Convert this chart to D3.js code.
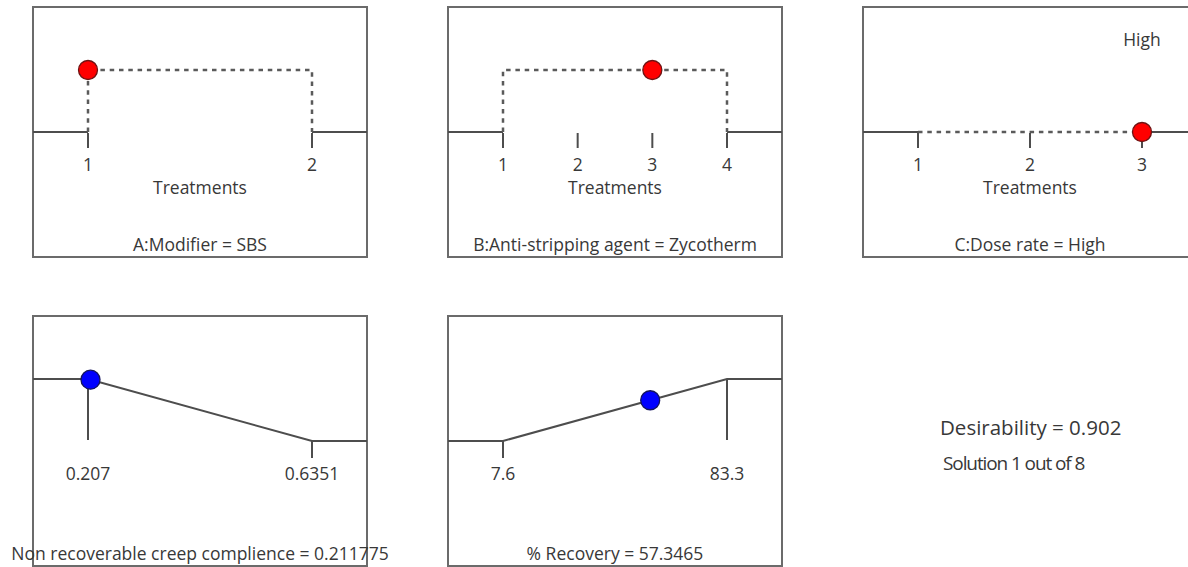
<!DOCTYPE html>
<html>
<head>
<meta charset="utf-8">
<script src="https://cdn.jsdelivr.net/npm/d3@7"></script>
<style>
  html, body { margin: 0; padding: 0; background: #fff; }
  svg text { font-family: "Open Sans", "Noto Sans", sans-serif; fill: #383838; }
</style>
</head>
<body>
<svg id="chart" width="1188" height="567"></svg>
<script>
// ---- Factor settings (optimisation solution) ----
const factorTitles   = ["A:Modifier = SBS", "B:Anti-stripping agent = Zycotherm", "C:Dose rate = High"];
const factorAxisName = ["Treatments", "Treatments", "Treatments"];
const factorLevels   = [[1, 2], [1, 2, 3, 4], [1, 2, 3]];
const factorSelected = [1, 3, 3];
const factorRaised   = [1, 1, 0];        // desirability level of the dotted bracket
const factorTopNote  = ["", "", "High"];

// ---- Responses ----
const responseNames  = ["Non recoverable creep complience", "% Recovery"];
const responseLow    = [0.207, 7.6];
const responseHigh   = [0.6351, 83.3];
const responseLowLbl = ["0.207", "7.6"];
const responseHighLbl= ["0.6351", "83.3"];
const responseGoal   = ["minimize", "maximize"];
const responseValue  = [0.211775, 57.3465];
const responseValLbl = ["0.211775", "57.3465"];

const desirability = 0.902;
const solutionIndex = 1, solutionCount = 8;

// ---- Layout ----
const svg = d3.select("#chart");
const W = 334, H = 250;
const colX = [33, 448, 863];
const rowY = [7, 316];
const inset = 55;
const fs = 17.5;
const lineCol = "#4d4d4d", boxCol = "#6b6b6b";

function panel(x0, y0) {
  const g = svg.append("g").attr("transform", `translate(${x0},${y0})`);
  g.append("rect").attr("x", 0).attr("y", 0).attr("width", W).attr("height", H)
    .attr("fill", "none").attr("stroke", boxCol).attr("stroke-width", 2);
  const yD = d3.scaleLinear().domain([0, 1]).range([125, 63]);
  return { g, yD };
}

// ---- Factor panels ----
factorTitles.forEach((title, i) => {
  const { g, yD } = panel(colX[i], rowY[0]);
  const lv = factorLevels[i];
  const x = d3.scaleLinear().domain([lv[0], lv[lv.length - 1]]).range([inset, W - inset]);
  const y0 = yD(0), yR = yD(factorRaised[i]);
  const xa = x(lv[0]), xb = x(lv[lv.length - 1]);

  // solid lead-in / lead-out at baseline
  g.append("line").attr("x1", 0).attr("x2", xa).attr("y1", y0).attr("y2", y0)
    .attr("stroke", lineCol).attr("stroke-width", 2);
  g.append("line").attr("x1", xb).attr("x2", W).attr("y1", y0).attr("y2", y0)
    .attr("stroke", lineCol).attr("stroke-width", 2);

  // dotted bracket spanning the levels
  g.append("path")
    .attr("d", d3.line()([[xa, y0], [xa, yR], [xb, yR], [xb, y0]]))
    .attr("fill", "none").attr("stroke", "#5a5a5a").attr("stroke-width", 2.5)
    .attr("stroke-dasharray", "4.5,4.8");

  // level ticks
  g.selectAll("line.tick").data(lv).join("line").attr("class", "tick")
    .attr("x1", d => x(d)).attr("x2", d => x(d))
    .attr("y1", y0 + 1).attr("y2", y0 + 16)
    .attr("stroke", lineCol).attr("stroke-width", 2);
  g.selectAll("text.lvl").data(lv).join("text").attr("class", "lvl")
    .attr("x", d => x(d)).attr("y", 164).attr("text-anchor", "middle")
    .attr("font-size", fs).text(d => d);

  g.append("text").attr("x", W / 2).attr("y", 187).attr("text-anchor", "middle")
    .attr("font-size", fs).text(factorAxisName[i]);
  g.append("text").attr("x", W / 2).attr("y", 244).attr("text-anchor", "middle")
    .attr("font-size", fs).text(title);
  if (factorTopNote[i]) {
    g.append("text").attr("x", x(factorSelected[i])).attr("y", 39).attr("text-anchor", "middle")
      .attr("font-size", fs).text(factorTopNote[i]);
  }

  g.append("circle").attr("cx", x(factorSelected[i])).attr("cy", yR).attr("r", 9.5)
    .attr("fill", "#ff0000").attr("stroke", "#6e1414").attr("stroke-width", 1.3);
});

// ---- Response panels ----
responseNames.forEach((name, i) => {
  const { g, yD } = panel(colX[i], rowY[1]);
  const lo = responseLow[i], hi = responseHigh[i];
  const x = d3.scaleLinear().domain([lo, hi]).range([inset, W - inset]);
  const minimize = responseGoal[i] === "minimize";
  const dAt = v => minimize ? (hi - v) / (hi - lo) : (v - lo) / (hi - lo);
  const dLo = dAt(lo), dHi = dAt(hi);

  const pts = [[0, yD(dLo)], [x(lo), yD(dLo)], [x(hi), yD(dHi)], [W, yD(dHi)]];
  g.append("path").attr("d", d3.line()(pts))
    .attr("fill", "none").attr("stroke", lineCol).attr("stroke-width", 2);

  // end ticks: long drop from the top level, short tick below the floor
  [[lo, dLo], [hi, dHi]].forEach(([v, d]) => {
    const top = yD(d), bot = d > 0.5 ? yD(0) - 1 : yD(0) + 17;
    g.append("line").attr("x1", x(v)).attr("x2", x(v)).attr("y1", top).attr("y2", bot)
      .attr("stroke", lineCol).attr("stroke-width", 2);
  });

  g.append("text").attr("x", x(lo)).attr("y", 164).attr("text-anchor", "middle")
    .attr("font-size", fs).text(responseLowLbl[i]);
  g.append("text").attr("x", x(hi)).attr("y", 164).attr("text-anchor", "middle")
    .attr("font-size", fs).text(responseHighLbl[i]);
  g.append("text").attr("x", W / 2).attr("y", 244).attr("text-anchor", "middle")
    .attr("font-size", fs).text(`${name} = ${responseValLbl[i]}`);

  const v = responseValue[i];
  g.append("circle").attr("cx", x(v)).attr("cy", yD(dAt(v))).attr("r", 9.5)
    .attr("fill", "#0000ff").attr("stroke", "#14145e").attr("stroke-width", 1.3);
});

// ---- Overall desirability ----
svg.append("text").attr("x", 940).attr("y", 435).attr("font-size", 20.5)
  .text(`Desirability = ${desirability.toFixed(3)}`);
svg.append("text").attr("x", 943).attr("y", 470).attr("font-size", 19)
  .attr("letter-spacing", -1.1)
  .text(`Solution ${solutionIndex} out of ${solutionCount}`);
</script>
</body>
</html>
